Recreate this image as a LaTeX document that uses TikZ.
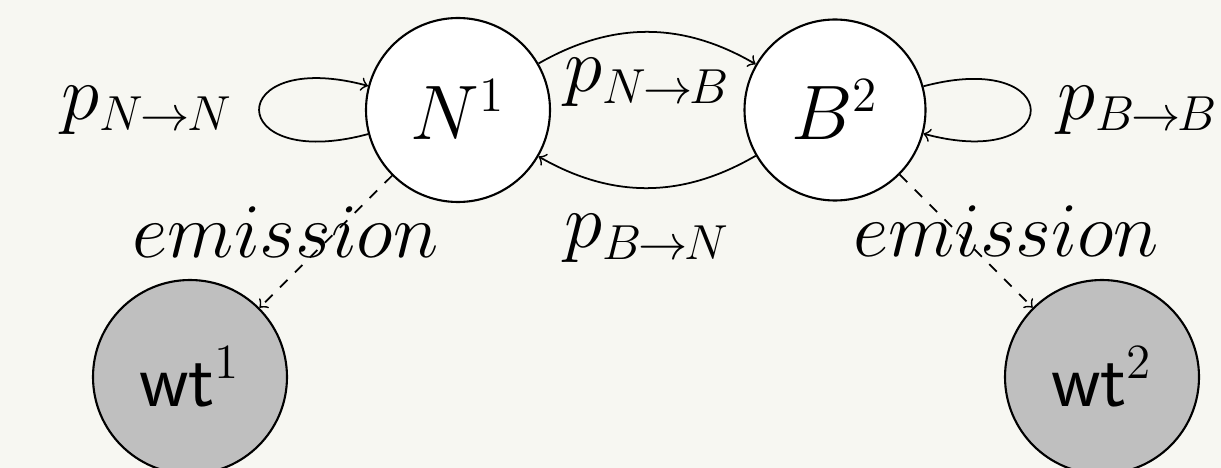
\documentclass[tikz,border=0pt]{standalone}
\usepackage{fix-cm}
\usepackage{xcolor}
\usepackage{tikz}
\usetikzlibrary{positioning}
\definecolor{paper}{RGB}{247,247,242}
\DeclareMathSizes{22}{22}{14}{11}
\newcommand{\ptrans}[2]{p_{#1\mkern-1mu\to\mkern-1mu#2}}

\begin{document}
\begin{tikzpicture}[
  on grid,
  >=to,
  every node/.style={font=\fontsize{22}{26}\selectfont, inner sep=7.3pt},
  hidden/.style={draw, circle, semithick, fill=white, inner sep=2pt, minimum size=1.84cm},
  observed/.style={draw, circle, semithick, fill=black!25, inner sep=2pt, minimum size=1.94cm},
  arrow/.style={->, line width=0.5pt},
  emit/.style={->, dashed, line width=0.5pt}
]
\fill[paper] (0,0) rectangle (12.21,-4.68);
\useasboundingbox (0,0) rectangle (12.21,-4.68);

\node[hidden] (N1) at (4.58,-1.10) {$N^1$};
\node[hidden, minimum size=1.81cm, right=3.77cm of N1] (B2) {$B^2$};
\node[observed, below left=2.67cm and 2.68cm of N1] (wt1) {$\mathsf{wt}^1$};
\node[observed, below right=2.67cm and 2.67cm of B2] (wt2) {$\mathsf{wt}^2$};

\draw[arrow] (N1) to[loop left] node[left] {$\ptrans{N}{N}$} (N1);
\draw[arrow] (B2) to[loop right] node[right] {$\ptrans{B}{B}$} (B2);
\draw[arrow] (N1) to[bend left] node[below] {$\ptrans{N}{B}$} (B2);
\draw[arrow] (B2) to[bend left] node[below] {$\ptrans{B}{N}$} (N1);

\draw[emit] (N1) -- node[xshift=-4mm, yshift=1mm] {$emission$} (wt1);
\draw[emit] (B2) -- node[xshift=4mm, yshift=1mm] {$emission$} (wt2);

\end{tikzpicture}
\end{document}
